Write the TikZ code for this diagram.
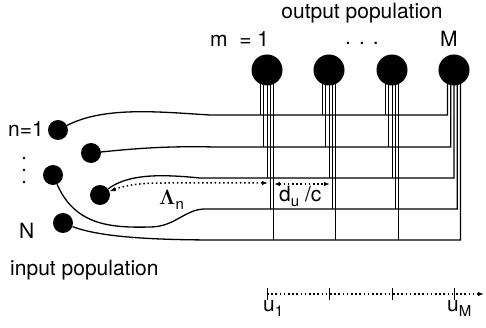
\documentclass[tikz,border=0pt]{standalone}
\usepackage{fontspec}
\setmainfont{TeX Gyre Heros}
\usepackage{bm}
\usepackage{tikz}
\usetikzlibrary{arrows.meta}
\newcommand{\lowidx}[1]{\raisebox{-5pt}{\fontsize{15}{15}\selectfont #1}}

\begin{document}
\begin{tikzpicture}[x=1pt, y=-1pt, font=\fontsize{21}{25}\selectfont,
  outn/.style={circle,fill=black,minimum size=31pt,inner sep=0pt},
  inn/.style={circle,fill=black,minimum size=20pt,inner sep=0pt},
  wire/.style={line width=1.3pt},
  strand/.style={line width=0.9pt},
  dots/.style={line width=1.5pt,dash pattern=on 1.5pt off 2.7pt},
  dotarr/.style={dots,{Latex[length=6pt,width=4.5pt]}-{Latex[length=6pt,width=4.5pt]}},
  lbl/.style={inner sep=0pt}]
\useasboundingbox (0,0) rectangle (486,328);
% output population
\foreach \m/\xo in {1/267,2/329,3/392,4/454}
  \node[outn] (o-\m) at (\xo,70) {};
\foreach \k/\yk in {1/115,2/147,3/178,4/209,5/240}
  \foreach \m/\xo in {1/267,2/329,3/392,4/454}
    \coordinate (j-\k-\m) at ({\xo-9.75+3.25*\k},\yk);
\foreach \k in {1,...,5}
  \foreach \m in {1,2,3}
    \draw[strand] (o-\m.center -| j-\k-\m) -- (j-\k-\m);
% input population
\node[inn] (in1) at (58,130) {};
\node[inn] (in2) at (91,153) {};
\node[inn] (in3) at (53,175) {};
\node[inn] (in4) at (100,195) {};
\node[inn] (inN) at (63,223) {};
\draw[wire] (in1) .. controls (105,106) and (160,112) .. (210,115) -- (j-1-4) -- (o-4.center -| j-1-4);
\draw[wire] (in2) .. controls (140,148) and (170,146) .. (215,147) -- (j-2-4) -- (o-4.center -| j-2-4);
\draw[wire] (in4) .. controls (128,174) and (160,174) .. (200,178) -- (j-3-4) -- (o-4.center -| j-3-4);
\draw[wire] (in3) .. controls (75,225) and (110,228) .. (150,227) .. controls (175,227) and (185,209) .. (205,209) -- (j-4-4) -- (o-4.center -| j-4-4);
\draw[wire] (inN) .. controls (100,237) and (150,240) .. (220,240) -- (j-5-4) -- (o-4.center -| j-5-4);
% delays
\coordinate (lam-end) at (268,183);
\coordinate (du-a) at (274,184);
\coordinate (du-b) at (330,184);
\draw[dotarr] (in4) .. controls (126,185) and (140,183) .. (165,183) -- (lam-end);
\draw[dotarr] (du-a) -- (du-b);
% position axis
\foreach \m/\xo in {1/267,2/329,3/392,4/454}
  \coordinate (tk-\m) at (\xo,294);
\coordinate (ax-end) at (484,294);
\draw[dots,-{Latex[length=6pt,width=4.5pt]}] (tk-1) -- (ax-end);
\foreach \m in {1,...,4}
  \draw[strand] (tk-\m) ++(0,-6) -- ++(0,12);
% labels
\node[lbl,anchor=base] (outlbl) at (362,19) {output population};
\node[lbl,anchor=base west] (mlbl) at (210,47) {m\ \ = 1};
\node[lbl,anchor=base west] (mdots) at (345,45) {.\hspace{8pt}.\hspace{8pt}.};
\node[lbl,anchor=base west] (Mlbl) at (440,47) {M};
\node[lbl,anchor=base west] (nlbl) at (8,137) {n=1};
\foreach \yd in {158,170,182}
  \fill (24,\yd) circle (1.4);
\node[lbl,anchor=base west] (Nlbl) at (19,238) {N};
\node[lbl,anchor=base west] (inlbl) at (10,275) {input population};
\node[lbl,anchor=base west,font=\fontsize{22}{22}\selectfont] (lamlbl) at (159,205) {$\bm{\Lambda}$\lowidx{n}};
\node[lbl,anchor=base west] (dulbl) at (279,202) {d\lowidx{u}\ /c};
\node[lbl,anchor=base west] (u1lbl) at (263,311) {u\lowidx{1}};
\node[lbl,anchor=base west] (uMlbl) at (447,311) {u\lowidx{M}};
\end{tikzpicture}
\end{document}
